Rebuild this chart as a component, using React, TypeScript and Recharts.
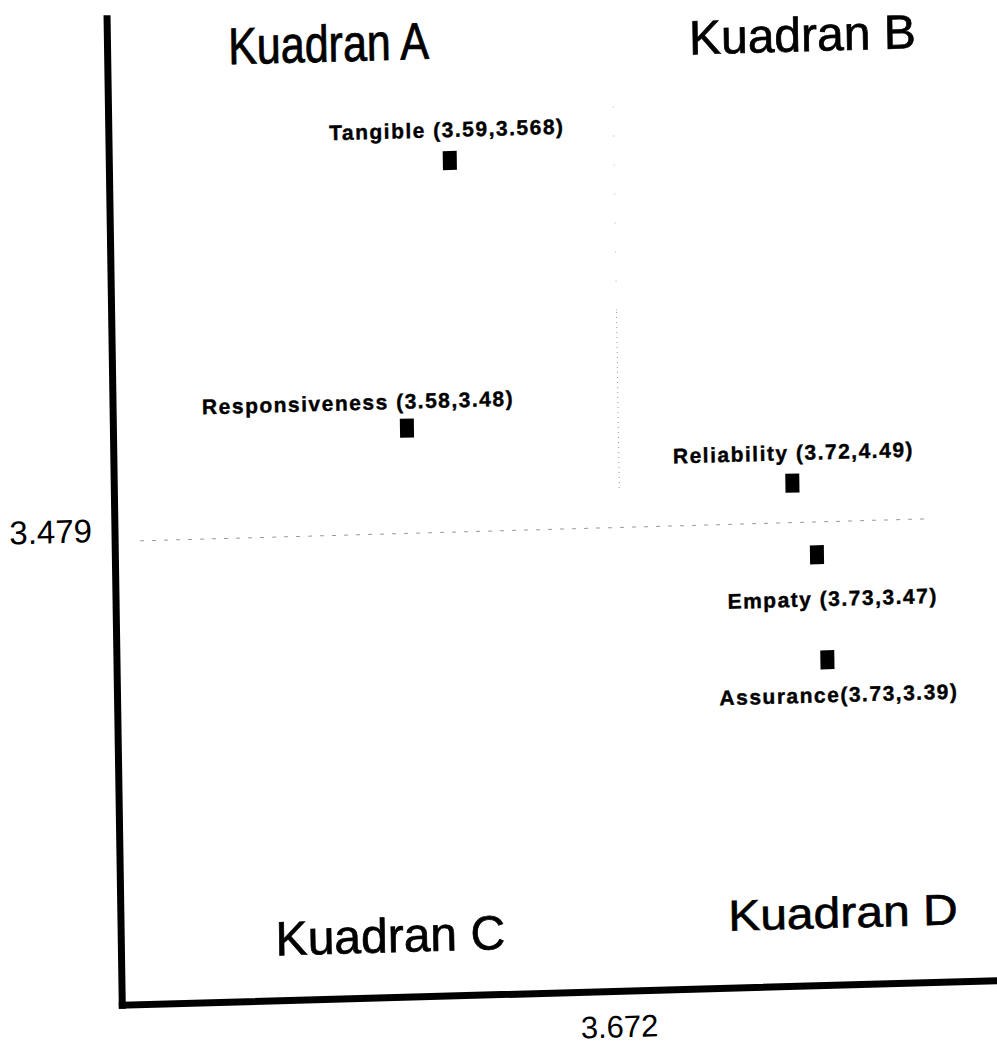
import { ScatterChart, Scatter, XAxis, YAxis, ReferenceLine, ReferenceArea } from "recharts"

// aspects of service quality, positions
const aspects = ["Tangible", "Responsiveness", "Reliability", "Empaty", "Assurance"]
const pointLabels = [
  "Tangible (3.59,3.568)",
  "Responsiveness (3.58,3.48)",
  "Reliability (3.72,4.49)",
  "Empaty (3.73,3.47)",
  "Assurance(3.73,3.39)",
]
const performance = [3.616, 3.6, 3.731, 3.739, 3.742]
const importance = [3.592, 3.511, 3.491, 3.469, 3.437]

const meanX = 3.672
const meanY = 3.479
const xDomain: [number, number] = [3.5, 3.805]
const yDomain: [number, number] = [3.338, 3.638]

const quadrantNames = ["Kuadran A", "Kuadran B", "Kuadran C", "Kuadran D"]

const font = "'Liberation Sans', Arial, sans-serif"

const data = aspects.map((name, i) => ({
  name,
  label: pointLabels[i],
  x: performance[i],
  y: importance[i],
}))

// label placement relative to the marker centre
const labelOffset: Record<string, [number, number]> = {
  Tangible: [-2.5, -31],
  Responsiveness: [-48.5, -27],
  Reliability: [1.5, -30.5],
  Empaty: [15, 44],
  Assurance: [11, 35],
}

// where each quadrant caption sits inside its area
const quadStyle = [
  { dx: 221, top: 49, size: 43, sy: 1.2 },
  { dx: 190, top: 52, size: 48, sy: 1 },
  { dx: 269, bottom: 45.5, size: 48, sy: 1 },
  { dx: 217, bottom: 57.5, size: 48, sy: 0.9 },
]

const Marker = (props: any) => {
  const { cx, cy, payload } = props
  const [dx, dy] = labelOffset[payload.name] || [0, -30]
  return (
    <g>
      <rect x={cx - 7} y={cy - 9.5} width={14} height={19} fill="#000" />
      <text
        x={cx + dx}
        y={cy + dy}
        textAnchor="middle"
        dominantBaseline="central"
        fontFamily={font}
        fontSize={21}
        fontWeight="bold"
        letterSpacing={1.5}
        fill="#000"
        stroke="#000"
        strokeWidth={0.4}
      >
        {payload.label}
      </text>
    </g>
  )
}

const QuadText = ({ viewBox, q }: any) => {
  if (!viewBox) return null
  const s = quadStyle[q]
  const x = viewBox.x + s.dx
  const y = s.top != null ? viewBox.y + s.top : viewBox.y + viewBox.height - (s.bottom as number)
  return (
    <text
      transform={`translate(${x},${y}) scale(1,${s.sy})`}
      textAnchor="middle"
      fontFamily={font}
      fontSize={s.size}
      fill="#000"
      stroke="#000"
      strokeWidth={0.7}
    >
      {quadrantNames[q]}
    </text>
  )
}

const XTick = ({ x, y, payload }: any) => (
  <text x={x - 8} y={y + 46} textAnchor="middle" fontFamily={font} fontSize={31} fill="#000">
    {payload.value}
  </text>
)

const YTick = ({ x, y, payload }: any) => (
  <text x={x - 23} y={y} textAnchor="end" fontFamily={font} fontSize={33} fill="#000">
    {payload.value}
  </text>
)

const axisLine = { stroke: "#000", strokeWidth: 7, strokeLinecap: "square" as const }

export default function App() {
  return (
    <div
      style={{
        position: "absolute",
        left: 0,
        top: 0,
        width: 997,
        height: 1045,
        overflow: "hidden",
        background: "#fff",
      }}
    >
      {/* the original is a slightly skewed scan */}
      <div
        style={{
          width: 1010,
          height: 1045,
          transform: "matrix(1,-0.028,0.0154,1,0,0)",
          transformOrigin: "498px 522px",
        }}
      >
        <ScatterChart width={1010} height={1045} margin={{ top: 8, right: 0, bottom: 0, left: 0 }}>
          <XAxis
            type="number"
            dataKey="x"
            domain={xDomain}
            ticks={[meanX]}
            allowDataOverflow
            height={50.5}
            axisLine={axisLine}
            tickLine={false}
            tickSize={0}
            tickMargin={0}
            tick={<XTick />}
          />
          <YAxis
            type="number"
            dataKey="y"
            domain={yDomain}
            ticks={[meanY]}
            allowDataOverflow
            width={115}
            axisLine={axisLine}
            tickLine={false}
            tickSize={0}
            tickMargin={0}
            tick={<YTick />}
          />
          <ReferenceArea x1={xDomain[0]} x2={meanX} y1={meanY} y2={yDomain[1]} fill="none" stroke="none" label={<QuadText q={0} />} />
          <ReferenceArea x1={meanX} x2={xDomain[1]} y1={meanY} y2={yDomain[1]} fill="none" stroke="none" label={<QuadText q={1} />} />
          <ReferenceArea x1={xDomain[0]} x2={meanX} y1={yDomain[0]} y2={meanY} fill="none" stroke="none" label={<QuadText q={2} />} />
          <ReferenceArea x1={meanX} x2={xDomain[1]} y1={yDomain[0]} y2={meanY} fill="none" stroke="none" label={<QuadText q={3} />} />
          <ReferenceLine
            segment={[{ x: meanX, y: 3.545 }, { x: meanX, y: 3.61 }]}
            stroke="#b0b0b0"
            strokeDasharray="1 28"
          />
          <ReferenceLine
            segment={[{ x: meanX, y: 3.491 }, { x: meanX, y: 3.545 }]}
            stroke="#9a9a9a"
            strokeDasharray="1 4"
          />
          <ReferenceLine
            segment={[{ x: 3.5085, y: meanY }, { x: 3.778, y: meanY }]}
            stroke="#999"
            strokeDasharray="4 8"
          />
          <Scatter data={data} shape={<Marker />} isAnimationActive={false} />
        </ScatterChart>
      </div>
    </div>
  )
}
